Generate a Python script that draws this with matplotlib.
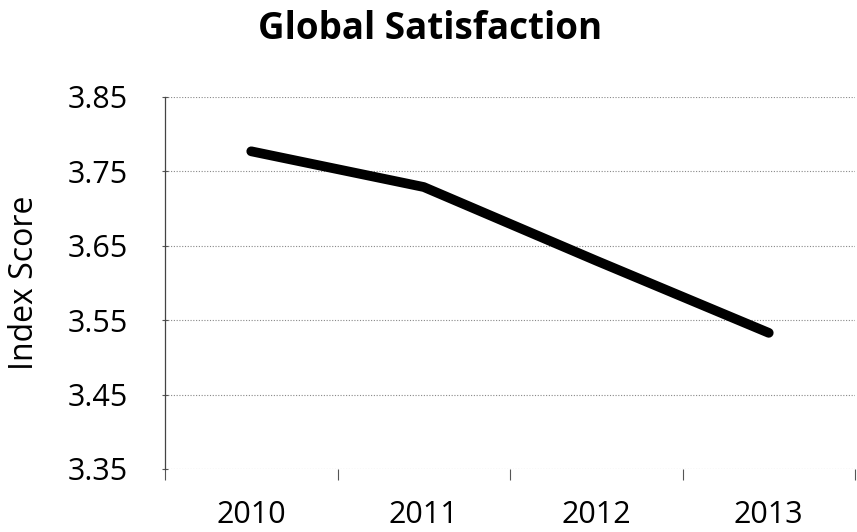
import matplotlib
matplotlib.use("Agg")
import matplotlib.pyplot as plt
import numpy as np

years = ["2010", "2011", "2012", "2013"]
scores = [3.777, 3.729, 3.630, 3.533]
yticks = [3.35, 3.45, 3.55, 3.65, 3.75, 3.85]

plt.rcParams['font.family'] = ['Open Sans', 'DejaVu Sans']

fig = plt.figure(figsize=(8.57, 5.32), dpi=100)
# axes: left 165px, right 855px, top 97px, bottom 469px
ax = fig.add_axes([165/857, 1 - 469/532, 690/857, 372/532])

x = np.arange(len(years))
ax.plot(x, scores, color='black', lw=7, solid_capstyle='round', solid_joinstyle='round', zorder=3)

ax.set_xlim(-0.5, len(years) - 0.5)
ax.set_ylim(yticks[0], yticks[-1])
ax.set_yticks(yticks)
ax.set_yticklabels([f"{v:.2f}" for v in yticks], fontsize=22)
ax.set_xticks(x)
ax.set_xticklabels(years, fontsize=22)
ax.set_xticks(np.arange(-0.5, len(years), 1.0), minor=True)
ax.tick_params(axis='x', which='major', length=0, pad=22)
ax.tick_params(axis='x', which='minor', length=8, direction='out', color='#555555', width=0.8)
ax.tick_params(axis='y', which='major', length=5, direction='inout', color='#555555', width=0.8, pad=24)

ax.grid(axis='y', linestyle=(0, (1, 1.5)), color='#888888', lw=0.8)
for s in ['top', 'right', 'bottom']:
    ax.spines[s].set_visible(False)
ax.spines['left'].set_color('#444444')
ax.spines['left'].set_linewidth(0.9)

ax.set_ylabel("Index Score", fontsize=23)
ax.yaxis.set_label_coords(-124/690, 0.5)
fig.text(430/857, 1 - 29/532, "Global Satisfaction", fontsize=26.5, fontweight='bold', ha='center', va='center')

fig.savefig("out.png", dpi=100)
